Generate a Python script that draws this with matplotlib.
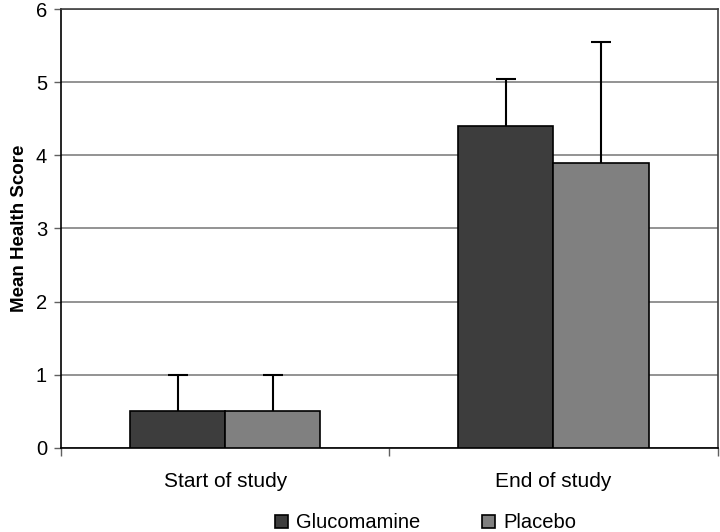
import numpy as np
import matplotlib.pyplot as plt

plt.rcParams['font.family'] = ['Liberation Sans', 'DejaVu Sans']

categories = ["Start of study", "End of study"]
series = ["Glucomamine", "Placebo"]
glucomamine = [0.5, 4.4]
placebo = [0.5, 3.9]
gluc_err = [0.5, 0.65]
plac_err = [0.5, 1.65]
colors = ["#3d3d3d", "#808080"]

fig = plt.figure(figsize=(7.2, 5.32), dpi=100)
ax = fig.add_axes([0.0847, 0.158, 0.912, 0.825])

x = np.arange(len(categories))
w = 0.29
vals = [glucomamine, placebo]
errs = [gluc_err, plac_err]
for i, (v, e) in enumerate(zip(vals, errs)):
    pos = x + (i - 0.5) * w
    ax.bar(pos, v, width=w, color=colors[i], edgecolor="black", linewidth=1.2,
           label=series[i], zorder=3)
    _, caps, _ = ax.errorbar(pos, v, yerr=[np.zeros(len(e)), e], fmt="none", ecolor="black",
                             elinewidth=1.5, capsize=7, capthick=1.5, zorder=4)
    caps[0].set_visible(False)

ax.set_xlim(-0.5, 1.5)
ax.set_ylim(0, 6)
ax.set_yticks(range(0, 7))
ax.yaxis.grid(True, color="#808080", linewidth=1.2, zorder=0)
ax.set_xticks(x)
ax.set_xticklabels(categories, fontsize=15)
ax.set_xticks([-0.5, 0.5, 1.5], minor=True)
ax.tick_params(axis="x", which="major", length=0, pad=17)
ax.tick_params(axis="x", which="minor", length=6, width=1, color="#606060")
ax.tick_params(axis="y", length=5, width=1, labelsize=14.5, color="#606060", pad=5)
ax.set_ylabel("Mean Health Score", fontsize=13.5, fontweight="bold", labelpad=6)
for s in ax.spines.values():
    s.set_linewidth(1.2)
    s.set_color("#404040")
ax.spines["left"].set_color("black")
ax.spines["bottom"].set_color("black")

fig.legend(loc="lower center", bbox_to_anchor=(0.591, -0.035), ncol=2, frameon=False,
           fontsize=14.5, handlelength=0.65, handleheight=0.65, handletextpad=0.4,
           columnspacing=3.1)

fig.savefig("out.png", dpi=100)
